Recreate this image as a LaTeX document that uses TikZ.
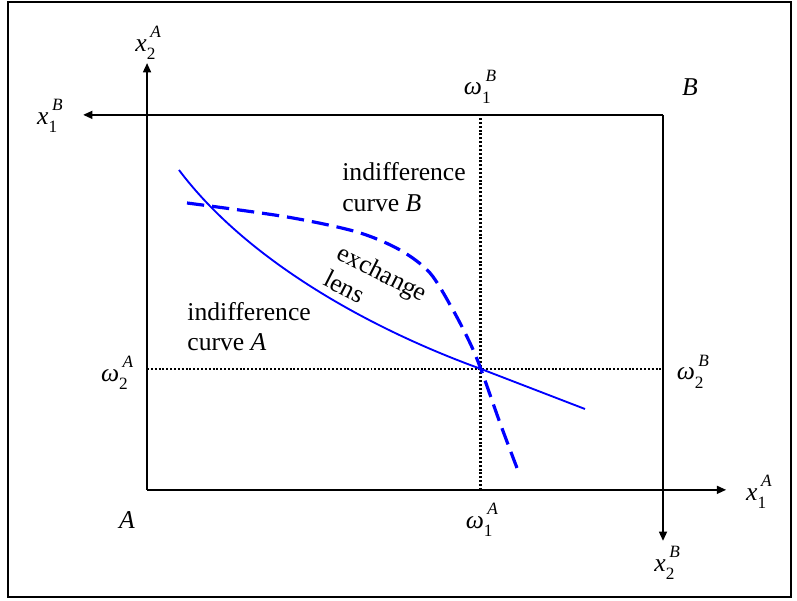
\documentclass[tikz,border=0pt]{standalone}
\usepackage{fontspec}
\setmainfont{Liberation Serif}
\usetikzlibrary{arrows.meta}

% letter with a lower index and a raised index beside it
\newcommand{\tens}[3]{\textit{#1}\rlap{\raisebox{-0.33em}{\fontsize{13}{13}\selectfont #2}}\kern0.14em\raisebox{0.52em}{\fontsize{13}{13}\selectfont\textit{#3}}}

\begin{document}
\begin{tikzpicture}[x=1cm,y=1cm,
  axis/.style={line width=1.3pt,-{Triangle[length=7pt,width=6pt]}},
  guide/.style={line width=2pt,dash pattern=on 1.5pt off 1.4pt},
  curveA/.style={blue,line width=1.4pt},
  curveB/.style={blue,line width=2.4pt,dash pattern=on 13pt off 6pt},
  lbl/.style={inner sep=0pt,font=\fontsize{19.3}{22.7}\selectfont}]
\useasboundingbox (0,0) rectangle (21.085,15.899);
\draw[line width=1.2pt] (0.21,0.11) rectangle (20.93,15.85);

% the two origins and the endowment
\coordinate (A) at (3.89,2.94);
\coordinate (B) at (17.54,12.86);
\coordinate (E) at (12.72,6.14);

% axes of A and of B
\draw[axis] (A) -- (3.89,14.23);
\draw[axis] (A) -- (19.21,2.94);
\draw[axis] (B) -- (2.20,12.86);
\draw[axis] (B) -- (17.54,1.59);

% endowment lines
\draw[guide] (E -| A) -- (E -| B);
\draw[guide] (E |- A) -- (E |- B);

% indifference curves
\draw[curveA] (4.735,11.402) .. controls (6.481,9.074) and (9.656,7.249) .. (E) -- (15.476,5.079);
\draw[curveB] plot[smooth] coordinates {(4.947,10.529) (7.593,10.159) (9.444,9.762)
  (10.582,9.286) (11.376,8.677) (11.984,7.698) (12.434,6.825) (E) (13.228,4.709)
  (13.677,3.519)};

% texts
\node[lbl,anchor=west,align=left] (indB) at (9.05,10.95) {indifference\\curve \textit{B}};
\node[lbl,anchor=west,align=left] (indA) at (4.95,7.25) {indifference\\curve \textit{A}};
\node[lbl,align=left,rotate=-27] (lens) at (9.95,8.34) {exchange\\lens};

\node[lbl] (x2A) at (3.92,14.76) {\tens{x}{2}{A}};
\node[lbl] (x1B) at (1.32,12.83) {\tens{x}{1}{B}};
\node[lbl] (w1B) at (12.70,13.60) {\tens{ω}{1}{B}};
\node[lbl] (nameB) at (18.25,13.60) {\textit{B}};
\node[lbl] (w2A) at (3.10,6.03) {\tens{ω}{2}{A}};
\node[lbl] (w2B) at (18.33,6.06) {\tens{ω}{2}{B}};
\node[lbl] (nameA) at (3.36,2.14) {\textit{A}};
\node[lbl] (w1A) at (12.75,2.14) {\tens{ω}{1}{A}};
\node[lbl] (x1A) at (20.08,2.88) {\tens{x}{1}{A}};
\node[lbl] (x2B) at (17.65,1.00) {\tens{x}{2}{B}};
\end{tikzpicture}
\end{document}
